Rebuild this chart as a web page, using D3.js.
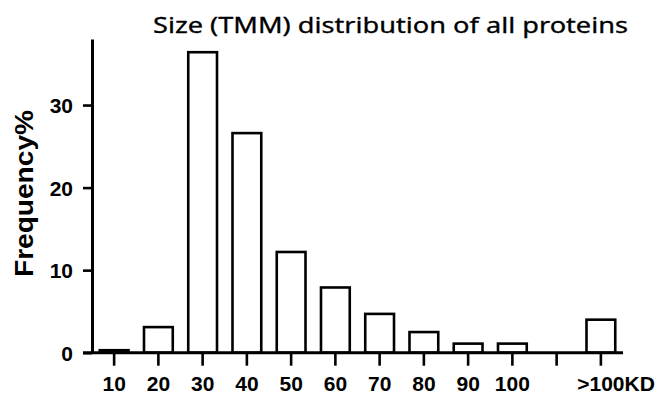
<!doctype html>
<html lang="en">
<head>
	<meta charset="UTF-8">
	<title>size distribution | d3</title>
	<style>
		body {
			margin: 0;
			background: #fff;
		}
		.tick-label {
			font-family: "Liberation Sans", Arial, sans-serif;
			font-weight: bold;
			font-size: 21px;
			fill: #000;
		}
		.title {
			font-family: "Noto Sans", "Open Sans", sans-serif;
			font-size: 22px;
			fill: #000;
			stroke: #000;
			stroke-width: 0.3px;
		}
		.y-title {
			font-family: "Liberation Sans", Arial, sans-serif;
			font-weight: bold;
			font-size: 25px;
			fill: #000;
		}
	</style>
</head>
<body>
	<script src="https://cdnjs.cloudflare.com/ajax/libs/d3/7.8.5/d3.min.js"></script>
	<script>
		// categories (the empty one is the gap before >100)
		var categories = ['10', '20', '30', '40', '50', '60', '70', '80', '90', '100', 'gap', '>100'],
			values = [0.3, 3.1, 36.4, 26.6, 12.2, 7.9, 4.7, 2.5, 1.1, 1.1, null, 4.0],
			tickLabels = ['10', '20', '30', '40', '50', '60', '70', '80', '90', '100', '', '>100'],
			yTicks = [0, 10, 20, 30],
			w = 662,
			h = 394;

		var svg = d3.select('body')
			.append('svg')
			.attr('width', w)
			.attr('height', h);

		var xScale,
			yScale;

		/**
		* initialize scales
		* @returns {undefined}
		*/
		var initScales = function() {
			xScale = d3.scaleBand()
				.domain(categories)
				.range([92, 623])
				.paddingInner(0.35)
				.paddingOuter(0.175);

			yScale = d3.scaleLinear()
				.domain([0, 38])
				.range([352.7, 39]);
		};

		/**
		* draw the bars
		* @returns {undefined}
		*/
		var drawBars = function() {
			var data = categories.map(function(c, i) {
				return {cat: c, v: values[i]};
			}).filter(function(d) {
				return d.v !== null;
			});

			svg.selectAll('rect.bar')
				.data(data)
				.enter()
				.append('rect')
				.attr('class', 'bar')
				.attr('x', function(d) {
					return xScale(d.cat);
				})
				.attr('y', function(d) {
					return yScale(d.v);
				})
				.attr('width', xScale.bandwidth())
				.attr('height', function(d) {
					return yScale(0) - yScale(d.v);
				})
				.attr('fill', '#fff')
				.attr('stroke', '#000')
				.attr('stroke-width', 2.6);
		};

		/**
		* draw axes, labels and title
		* @returns {undefined}
		*/
		var drawAxes = function() {
			var yAxis = d3.axisLeft(yScale)
				.tickValues(yTicks)
				.tickSize(9)
				.tickPadding(10)
				.tickSizeOuter(0);

			var gy = svg.append('g')
				.attr('transform', 'translate(92,0)')
				.call(yAxis);

			gy.select('.domain')
				.attr('stroke-width', 3);
			gy.selectAll('.tick line')
				.attr('stroke-width', 2.6);
			gy.selectAll('.tick text')
				.attr('class', 'tick-label')
				.attr('font-family', null)
				.attr('font-size', null)
				.attr('dy', '0.36em');

			var xAxis = d3.axisBottom(xScale)
				.tickSize(13)
				.tickSizeOuter(0)
				.tickFormat(function(d, i) {
					return tickLabels[i];
				});

			var gx = svg.append('g')
				.attr('transform', 'translate(0,' + yScale(0) + ')')
				.call(xAxis);

			gx.select('.domain')
				.attr('d', 'M83,0H623')
				.attr('stroke-width', 3);
			gx.selectAll('.tick line')
				.attr('stroke-width', 2.6);
			gx.selectAll('.tick text')
				.attr('class', 'tick-label')
				.attr('font-family', null)
				.attr('font-size', null)
				.attr('y', 38)
				.attr('dy', 0);

			// the last label has "KD" glued to it, number stays centred on the tick
			var last = gx.selectAll('.tick text').filter(function(d) {
				return d === '>100';
			});
			var numW = last.node().getComputedTextLength();
			last.attr('text-anchor', 'start')
				.attr('x', -numW / 2)
				.append('tspan')
				.text('KD');

			svg.append('text')
				.attr('class', 'title')
				.attr('x', 153)
				.attr('y', 33)
				.attr('textLength', 475)
				.attr('lengthAdjust', 'spacingAndGlyphs')
				.text('Size (TMM) distribution of all proteins');

			svg.append('text')
				.attr('class', 'y-title')
				.attr('transform', 'translate(33,277) rotate(-90)')
				.attr('textLength', 167)
				.attr('lengthAdjust', 'spacingAndGlyphs')
				.text('Frequency%');
		};

		initScales();
		drawBars();
		drawAxes();
	</script>
</body>
</html>
